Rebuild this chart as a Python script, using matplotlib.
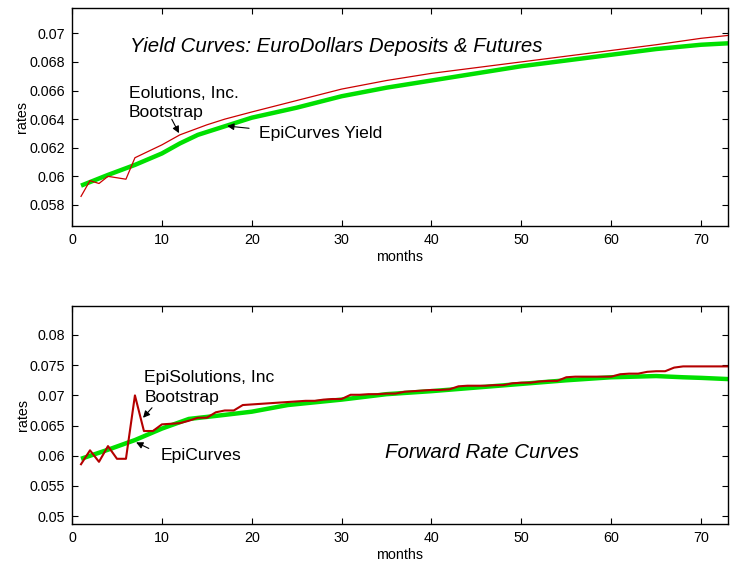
import matplotlib
matplotlib.use("Agg")
import matplotlib.pyplot as plt

plt.rcParams['font.family'] = ['Liberation Sans', 'DejaVu Sans']

# yield curves (top panel)
yield_boot_months = [1, 2, 3, 4, 5, 6, 7, 8, 10, 12, 15, 17, 20, 25, 30, 35, 40, 45, 50, 55, 60, 65, 70, 73]
yield_boot_rates = [0.0586, 0.0597, 0.0595, 0.0600, 0.0599, 0.0598, 0.0613, 0.0616, 0.0622, 0.0629,
                    0.0636, 0.0640, 0.0645, 0.0653, 0.0661, 0.0667, 0.0672, 0.0676, 0.0680, 0.0684,
                    0.0688, 0.0692, 0.06965, 0.06985]
yield_epi_months = [1, 4, 7, 10, 12, 14, 17, 20, 25, 30, 35, 40, 45, 50, 55, 60, 65, 70, 73]
yield_epi_rates = [0.05935, 0.0601, 0.0608, 0.0616, 0.0623, 0.0629, 0.0635, 0.0641, 0.0648, 0.0656,
                   0.0662, 0.0667, 0.0672, 0.0677, 0.0681, 0.0685, 0.0689, 0.0692, 0.0693]

# forward rates (bottom panel), bootstrap is monthly
fwd_boot_months = list(range(1, 74))
fwd_boot_rates = [0.0586, 0.0609, 0.0590, 0.0616, 0.0595, 0.0595, 0.0700, 0.0641, 0.0641, 0.0652,
                  0.0653, 0.0654, 0.0658, 0.0663, 0.0663, 0.0672, 0.0675, 0.0675, 0.0684, 0.0685,
                  0.0686, 0.0687, 0.0688, 0.0689, 0.0690, 0.0691, 0.0691, 0.0693, 0.0694, 0.0694,
                  0.0701, 0.0701, 0.0702, 0.0702, 0.0703, 0.0703, 0.0706, 0.0707, 0.0708, 0.0709,
                  0.0709, 0.0710, 0.0715, 0.0716, 0.0716, 0.0716, 0.0717, 0.0717, 0.0720, 0.0721,
                  0.0721, 0.0723, 0.0724, 0.0724, 0.0730, 0.0731, 0.0731, 0.0731, 0.0731, 0.0731,
                  0.0735, 0.0736, 0.0736, 0.0739, 0.0740, 0.0740, 0.0746, 0.0748, 0.0748, 0.0748,
                  0.0748, 0.0748, 0.0748]
fwd_epi_months = [1, 4, 7, 10, 13, 16, 20, 24, 30, 35, 40, 45, 50, 55, 60, 65, 68, 70, 73]
fwd_epi_rates = [0.0595, 0.0610, 0.0626, 0.0645, 0.0661, 0.0666, 0.0673, 0.0684, 0.0693, 0.0702,
                 0.0707, 0.0713, 0.0719, 0.0725, 0.0730, 0.0732, 0.0730, 0.0729, 0.0727]

x_ticks = [0, 10, 20, 30, 40, 50, 60, 70]
yield_ticks = [0.058, 0.060, 0.062, 0.064, 0.066, 0.068, 0.070]
fwd_ticks = [0.05, 0.055, 0.06, 0.065, 0.07, 0.075, 0.08]

GREEN = '#00e000'
arrow = dict(arrowstyle='-|>', color='k', lw=0.8, mutation_scale=10, shrinkA=0, shrinkB=0)
NOTE = 12.6
TITLE = 14.7

fig = plt.figure(figsize=(7.32, 5.62), dpi=100)
ax1 = fig.add_axes([0.0984, 0.5979, 0.8962, 0.3879])
ax2 = fig.add_axes([0.0984, 0.0676, 0.8962, 0.3879])


def style_axes(ax, yticks, ylim):
    ax.set_xlim(0, 73)
    ax.set_ylim(*ylim)
    ax.set_xticks(x_ticks)
    ax.set_xticklabels([str(t) for t in x_ticks])
    ax.set_yticks(yticks)
    ax.set_yticklabels(['%g' % t for t in yticks])
    ax.tick_params(direction='in', length=4, width=0.8, top=True, right=True,
                   labelsize=10.3, pad=5)
    for s in ax.spines.values():
        s.set_linewidth(1.0)
    ax.set_xlabel('months', fontsize=10.3, labelpad=2)
    ax.set_ylabel('rates', fontsize=10.3, labelpad=0)


# top: yield curves
ax1.plot(yield_epi_months, yield_epi_rates, color=GREEN, lw=3.2, solid_capstyle='butt')
ax1.plot(yield_boot_months, yield_boot_rates, color='#cc0000', lw=0.9)
style_axes(ax1, yield_ticks, (0.05653, 0.07177))
ax1.text(6.4, 0.06906, 'Yield Curves: EuroDollars Deposits & Futures', style='italic',
         fontsize=TITLE, va='center', ha='left')
ax1.text(6.3, 0.06513, 'Eolutions, Inc.\nBootstrap', fontsize=NOTE, va='center', ha='left',
         linespacing=1.4)
ax1.annotate('', xy=(11.9, 0.06302), xytext=(11.1, 0.06399), arrowprops=arrow)
ax1.text(20.8, 0.06301, 'EpiCurves Yield', fontsize=NOTE, va='center', ha='left')
ax1.annotate('', xy=(17.26, 0.06352), xytext=(19.7, 0.06336), arrowprops=arrow)

# bottom: forward rates
ax2.plot(fwd_epi_months, fwd_epi_rates, color=GREEN, lw=3.2, solid_capstyle='butt')
ax2.plot(fwd_boot_months, fwd_boot_rates, color='#b40000', lw=1.5)
style_axes(ax2, fwd_ticks, (0.0487, 0.0848))
ax2.text(8.05, 0.07133, 'EpiSolutions, Inc\nBootstrap', fontsize=NOTE, va='center', ha='left',
         linespacing=1.4)
ax2.annotate('', xy=(7.9, 0.06629), xytext=(8.9, 0.06795), arrowprops=arrow)
ax2.text(9.88, 0.0600, 'EpiCurves', fontsize=NOTE, va='center', ha='left')
ax2.annotate('', xy=(7.13, 0.06222), xytext=(8.54, 0.06122), arrowprops=arrow)
ax2.text(34.8, 0.06056, 'Forward Rate Curves', style='italic', fontsize=TITLE,
         va='center', ha='left')

fig.savefig('out.png', dpi=100)
